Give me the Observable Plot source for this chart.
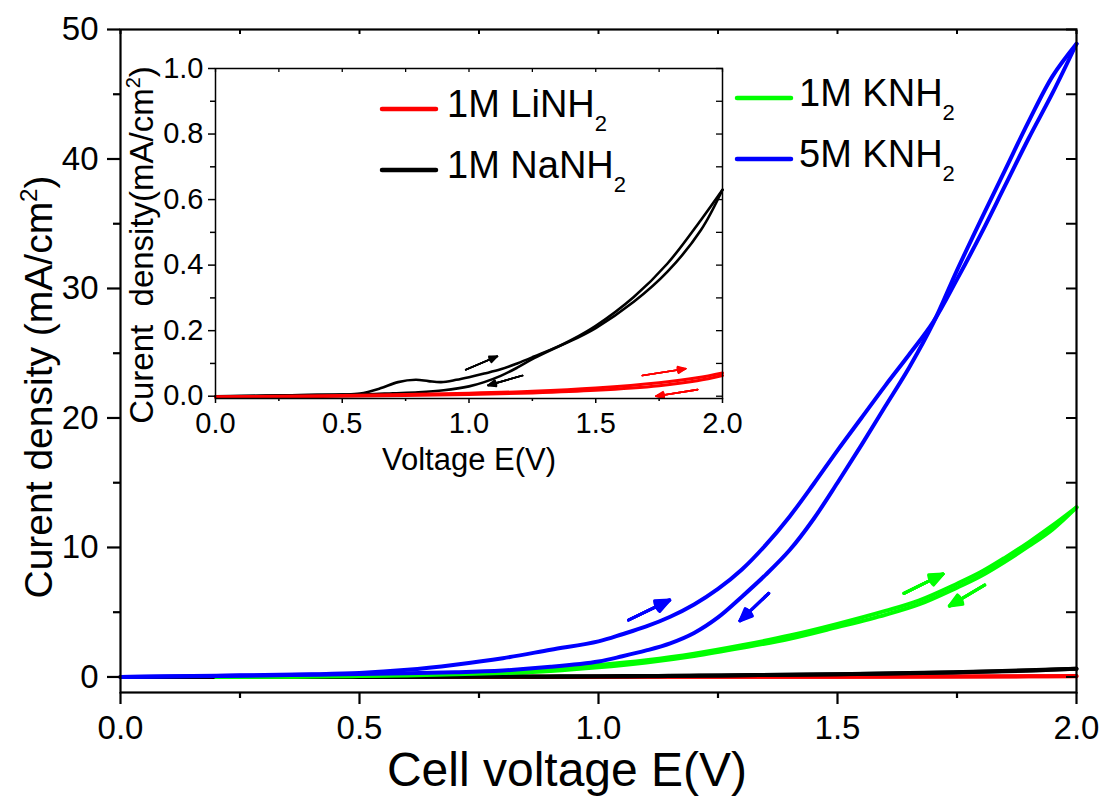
<!DOCTYPE html>
<html><head><meta charset="utf-8">
<script src="https://cdn.jsdelivr.net/npm/d3@7"></script>
<script src="https://cdn.jsdelivr.net/npm/@observablehq/plot@0.6"></script>
<style>
html,body{margin:0;padding:0;background:#fff;}
#wrap{position:relative;width:1104px;height:798px;overflow:hidden;background:#fff;}
#main{position:absolute;left:0;top:0;}
#inset{position:absolute;left:100px;top:40px;}
</style></head><body>
<div id="wrap"><div id="main"></div><div id="inset"></div></div>
<script>
const FONT = '"Liberation Sans", Arial, Helvetica, sans-serif';

// ---------- data ----------
// 5M KNH2 (blue), forward and reverse scans
const knh5FwdV = [0, 0.1, 0.2, 0.3, 0.4, 0.5, 0.6, 0.7, 0.8, 0.9, 1.0, 1.05, 1.1, 1.15, 1.2, 1.25, 1.3, 1.35, 1.4, 1.45, 1.5, 1.55, 1.6, 1.65, 1.7, 1.75, 1.8, 1.85, 1.9, 1.95, 2.0];
const knh5FwdJ = [0, 0.05, 0.1, 0.15, 0.2, 0.3, 0.55, 0.95, 1.45, 2.1, 2.75, 3.3, 3.9, 4.65, 5.6, 6.8, 8.3, 10.2, 12.4, 14.9, 17.5, 20.0, 22.5, 24.9, 27.4, 30.7, 34.2, 37.9, 41.6, 45.1, 48.9];
const knh5RevV = [2.0, 1.95, 1.9, 1.85, 1.8, 1.75, 1.7, 1.65, 1.6, 1.55, 1.5, 1.45, 1.4, 1.35, 1.3, 1.25, 1.2, 1.15, 1.1, 1.05, 1.0, 0.9, 0.8, 0.7, 0.6, 0.5, 0.4, 0.3, 0.2, 0.1, 0];
const knh5RevJ = [48.9, 46.4, 42.9, 39.1, 35.3, 31.4, 27.3, 23.9, 20.9, 17.9, 15.0, 12.2, 9.8, 7.9, 6.2, 4.6, 3.4, 2.6, 2.05, 1.6, 1.2, 0.78, 0.5, 0.36, 0.28, 0.22, 0.17, 0.12, 0.08, 0.04, 0];

// 1M KNH2 (green)
const knh1FwdV = [0.2, 0.3, 0.4, 0.5, 0.6, 0.7, 0.8, 0.9, 1.0, 1.1, 1.2, 1.3, 1.4, 1.5, 1.6, 1.67, 1.75, 1.8, 1.85, 1.9, 1.95, 2.0];
const knh1FwdJ = [0, 0.02, 0.05, 0.1, 0.18, 0.28, 0.42, 0.62, 0.92, 1.3, 1.8, 2.45, 3.2, 4.1, 5.1, 5.9, 7.2, 8.1, 9.2, 10.4, 11.7, 13.1];
const knh1RevV = [2.0, 1.95, 1.9, 1.85, 1.8, 1.75, 1.67, 1.6, 1.5, 1.4, 1.3, 1.2, 1.1, 1.0, 0.9, 0.8, 0.7, 0.6, 0.5, 0.4, 0.3, 0.2];
const knh1RevJ = [13.1, 11.4, 10.1, 8.9, 7.8, 6.9, 5.6, 4.8, 3.85, 2.95, 2.25, 1.62, 1.12, 0.74, 0.46, 0.3, 0.2, 0.12, 0.07, 0.03, 0.01, 0];

// 1M NaNH2 (black)
const nanhFwdV = [0, 0.1, 0.2, 0.3, 0.4, 0.5, 0.57, 0.65, 0.72, 0.79, 0.84, 0.89, 0.95, 1.0, 1.06, 1.125, 1.19, 1.257, 1.4, 1.5, 1.65, 1.783, 1.915, 2.0];
const nanhFwdJ = [0, 0.001, 0.002, 0.003, 0.004, 0.005, 0.008, 0.024, 0.043, 0.050, 0.046, 0.043, 0.050, 0.058, 0.069, 0.082, 0.100, 0.121, 0.168, 0.208, 0.288, 0.380, 0.507, 0.630];
const nanhRevV = [2.0, 1.915, 1.783, 1.65, 1.5, 1.4, 1.257, 1.19, 1.125, 1.06, 1.0, 0.9, 0.8, 0.7, 0.6, 0.5, 0.3, 0.1, 0];
const nanhRevJ = [0.630, 0.538, 0.405, 0.303, 0.215, 0.170, 0.116, 0.087, 0.062, 0.043, 0.030, 0.018, 0.012, 0.009, 0.006, 0.005, 0.003, 0.0, -0.002];

// 1M LiNH2 (red)
const linhFwdV = [0, 0.25, 0.5, 0.75, 1.0, 1.25, 1.5, 1.75, 1.9, 2.0];
const linhFwdJ = [-0.002, 0.0, 0.002, 0.005, 0.009, 0.015, 0.025, 0.041, 0.056, 0.071];
const linhRevV = [2.0, 1.9, 1.75, 1.5, 1.25, 1.0, 0.75, 0.5, 0.25, 0];
const linhRevJ = [0.063, 0.047, 0.032, 0.018, 0.010, 0.005, 0.002, 0.0, -0.002, -0.003];

// scan-direction arrows (x1, y1, x2, y2)
const mainArrowSeries = ["5M", "5M", "1MK", "1MK"];
const mainArrowX1 = [1.063, 1.356, 1.639, 1.808];
const mainArrowY1 = [4.40, 6.46, 6.46, 7.10];
const mainArrowX2 = [1.149, 1.296, 1.721, 1.734];
const mainArrowY2 = [5.94, 4.34, 7.95, 5.48];
const insetArrowSeries = ["Na", "Na", "Li", "Li"];
const insetArrowX1 = [0.987, 1.211, 1.684, 1.902];
const insetArrowY1 = [0.081, 0.063, 0.063, 0.020];
const insetArrowX2 = [1.112, 1.075, 1.855, 1.737];
const insetArrowY2 = [0.122, 0.033, 0.084, 0.000];

// ticks
const mainXTicks = [0, 0.5, 1.0, 1.5, 2.0];
const mainXMinor = [0.25, 0.75, 1.25, 1.75];
const mainYTicks = [0, 10, 20, 30, 40, 50];
const mainYMinor = [5, 15, 25, 35, 45];
const insetXTicks = [0, 0.5, 1.0, 1.5, 2.0];
const insetXMinor = [0.25, 0.75, 1.25, 1.75];
const insetYTicks = [0, 0.2, 0.4, 0.6, 0.8, 1.0];
const insetYMinor = [0.1, 0.3, 0.5, 0.7, 0.9];

// legend
const seriesColor = {"1M LiNH": "#ff0000", "1M NaNH": "#000000", "1M KNH": "#00ff00", "5M KNH": "#0000ff"};
const insetLegend = ["1M LiNH", "1M NaNH"];
const mainLegend = ["1M KNH", "5M KNH"];

// ---------- helpers ----------
const rows = (vs, js) => vs.map((v, i) => ({v, j: js[i]}));
const arrows = (s, x1, y1, x2, y2) => s.map((k, i) => ({k, x1: x1[i], y1: y1[i], x2: x2[i], y2: y2[i]}));
const fmt1 = d3.format(".1f");
// stacked heads with decreasing angles give a filled-looking arrowhead
const headAngles = [46, 34, 22, 10];
function filledArrows(data, colorOf, width, headLength) {
  return headAngles.map(a => Plot.arrow(data, {x1: "x1", y1: "y1", x2: "x2", y2: "y2",
    stroke: colorOf, strokeWidth: width, headLength, headAngle: a}));
}

// ---------- main chart ----------
const mainLines = [
  [linhFwdV, linhFwdJ, seriesColor["1M LiNH"]],
  [linhRevV, linhRevJ, seriesColor["1M LiNH"]],
  [nanhFwdV, nanhFwdJ, seriesColor["1M NaNH"]],
  [nanhRevV, nanhRevJ, seriesColor["1M NaNH"]],
  [knh1FwdV, knh1FwdJ, seriesColor["1M KNH"]],
  [knh1RevV, knh1RevJ, seriesColor["1M KNH"]],
  [knh5FwdV, knh5FwdJ, seriesColor["5M KNH"]],
  [knh5RevV, knh5RevJ, seriesColor["5M KNH"]]
];
const mArrows = arrows(mainArrowSeries, mainArrowX1, mainArrowY1, mainArrowX2, mainArrowY2);

const main = Plot.plot({
  width: 1104, height: 798,
  marginLeft: 120, marginRight: 28, marginTop: 29, marginBottom: 106,
  style: {fontFamily: FONT, background: "transparent", color: "black", overflow: "visible"},
  x: {domain: [0, 2]},
  y: {domain: [-1.2, 50]},
  marks: [
    ...mainLines.map(([vs, js, c]) => Plot.line(rows(vs, js), {x: "v", y: "j", stroke: c, strokeWidth: 4, curve: "catmull-rom"})),
    ...filledArrows(mArrows, d => d.k === "5M" ? seriesColor["5M KNH"] : seriesColor["1M KNH"], 3, 13),
    Plot.frame({stroke: "black", strokeWidth: 2.2}),
    Plot.axisX({ticks: mainXTicks, tickFormat: fmt1, tickSize: 12, tickPadding: 11, fontSize: 33, strokeWidth: 2.2, label: null}),
    Plot.axisX({ticks: mainXMinor, tickSize: 6, fill: "none", strokeWidth: 2.2, label: null}),
    Plot.axisX({anchor: "top", ticks: mainXTicks.concat(mainXMinor), tickSize: 4, dy: 4, fill: "none", strokeWidth: 2, label: null}),
    Plot.axisY({ticks: mainYTicks, tickFormat: d => String(d), tickSize: 13, tickPadding: 9, fontSize: 33, strokeWidth: 2.2, label: null}),
    Plot.axisY({ticks: mainYMinor, tickSize: 7, fill: "none", strokeWidth: 2.2, label: null}),
    Plot.axisY({anchor: "right", ticks: mainYTicks.concat(mainYMinor), tickSize: 11, dx: -11, fill: "none", strokeWidth: 2, label: null})
  ]
});
document.getElementById("main").appendChild(main);

// ---------- inset ----------
const insetLines = [
  [nanhFwdV, nanhFwdJ, seriesColor["1M NaNH"], 2.6],
  [nanhRevV, nanhRevJ, seriesColor["1M NaNH"], 2.6],
  [linhFwdV, linhFwdJ, seriesColor["1M LiNH"], 3],
  [linhRevV, linhRevJ, seriesColor["1M LiNH"], 3]
];
const iArrows = arrows(insetArrowSeries, insetArrowX1, insetArrowY1, insetArrowX2, insetArrowY2);

const inset = Plot.plot({
  width: 642, height: 440,
  marginLeft: 115, marginRight: 20, marginTop: 28, marginBottom: 82,
  style: {fontFamily: FONT, background: "transparent", color: "black", overflow: "visible"},
  x: {domain: [0, 2]},
  y: {domain: [-0.007, 1.0]},
  marks: [
    ...insetLines.map(([vs, js, c, w]) => Plot.line(rows(vs, js), {x: "v", y: "j", stroke: c, strokeWidth: w, curve: "catmull-rom"})),
    ...filledArrows(iArrows, d => d.k === "Na" ? seriesColor["1M NaNH"] : seriesColor["1M LiNH"], 1.6, 8),
    Plot.frame({stroke: "black", strokeWidth: 1.5}),
    Plot.axisX({ticks: insetXTicks, tickFormat: fmt1, tickSize: 5, tickPadding: 9, fontSize: 29, strokeWidth: 1.5, label: null}),
    Plot.axisX({ticks: insetXMinor, tickSize: 3, fill: "none", strokeWidth: 1.5, label: null}),
    Plot.axisX({anchor: "top", ticks: insetXTicks.concat(insetXMinor), tickSize: 3, dy: 3, fill: "none", strokeWidth: 1.3, label: null}),
    Plot.axisY({ticks: insetYTicks, tickFormat: fmt1, tickSize: 7, tickPadding: 5, fontSize: 29, strokeWidth: 1.5, label: null}),
    Plot.axisY({ticks: insetYMinor, tickSize: 5, fill: "none", strokeWidth: 1.5, label: null}),
    Plot.axisY({anchor: "right", ticks: insetYTicks.concat(insetYMinor), tickSize: 7, dx: -7, fill: "none", strokeWidth: 1.3, label: null})
  ]
});
document.getElementById("inset").appendChild(inset);

// ---------- titles & legends ----------
function addText(svg, {x, y, size, rotate = 0, anchor = "middle", parts}) {
  const t = d3.select(svg).append("text")
    .attr("font-family", FONT).attr("font-size", size).attr("fill", "black")
    .attr("text-anchor", anchor)
    .attr("transform", `translate(${x},${y})` + (rotate ? ` rotate(${rotate})` : ""));
  parts.forEach(p => {
    const s = t.append("tspan").text(p.text);
    if (p.size) s.attr("font-size", p.size);
    if (p.dy) s.attr("dy", p.dy);
  });
  return t;
}
function addLegend(svg, items, {x0, x1, tx, y0, gap, size}) {
  items.forEach((name, i) => {
    const y = y0 + i * gap;
    d3.select(svg).append("line")
      .attr("x1", x0).attr("x2", x1).attr("y1", y).attr("y2", y)
      .attr("stroke", seriesColor[name]).attr("stroke-width", 4.5).attr("stroke-linecap", "round");
    addText(svg, {x: tx, y: y + 8, size, anchor: "start",
      parts: [{text: name}, {text: "2", size: 22, dy: 14}]});
  });
}

// main axis titles
addText(main, {x: 567, y: 786, size: 48, parts: [{text: "Cell voltage E(V)"}]});
addText(main, {x: 52, y: 387, size: 39, rotate: -90,
  parts: [{text: "Curent density (mA/cm"}, {text: "2", size: 24, dy: -15}, {text: ")", dy: 15}]});
addLegend(main, mainLegend, {x0: 737, x1: 791, tx: 799, y0: 98, gap: 61, size: 38});

// inset axis titles
addText(inset, {x: 369, y: 430, size: 31, parts: [{text: "Voltage E(V)"}]});
addText(inset, {x: 53, y: 205, size: 33, rotate: -90,
  parts: [{text: "Curent\u00a0\u00a0density(mA/cm"}, {text: "2", size: 20, dy: -13}, {text: ")", dy: 13}]});
addLegend(inset, insetLegend, {x0: 282, x1: 336, tx: 347, y0: 69, gap: 61, size: 38});
</script>
</body></html>
